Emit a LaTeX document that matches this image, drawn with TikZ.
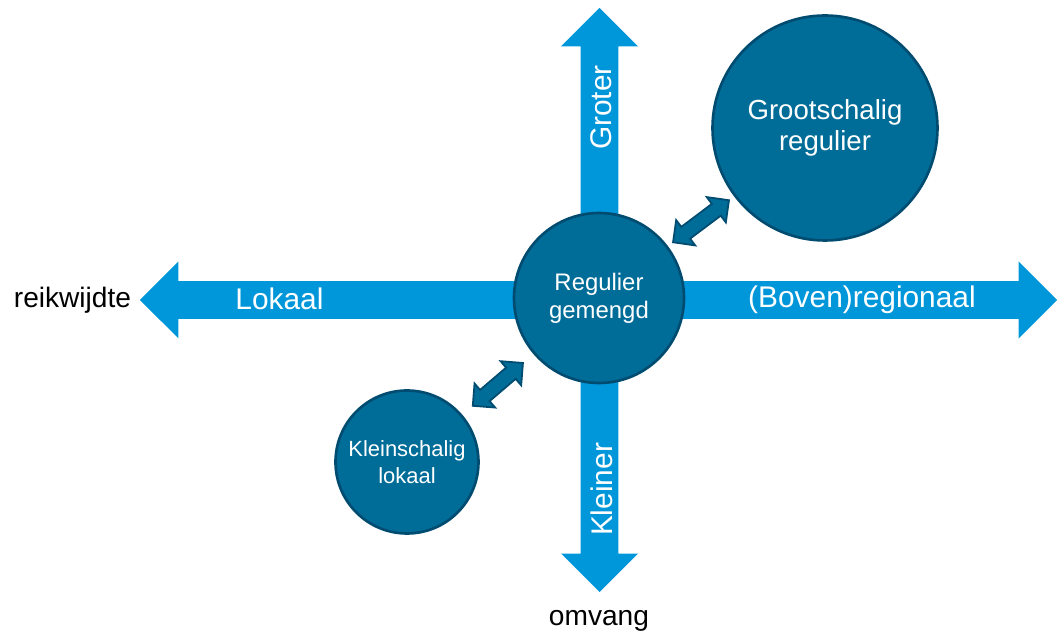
\documentclass[tikz,border=0pt]{standalone}
\usepackage{fontspec}
\setmainfont{Liberation Sans}
\definecolor{main}{RGB}{0,150,218}
\definecolor{second}{RGB}{0,108,152}
\definecolor{third}{RGB}{0,76,112}
\usetikzlibrary{
	shapes.arrows,
	positioning
}
\tikzset{
  % arrow
	cstaxis/.style    ={double arrow, fill=main, inner xsep=0pt, inner ysep=0.37cm, double arrow head extend=0.39cm}, % grote assen
	cstlink/.style    ={double arrow, fill=second, draw=third, line width=1pt, inner xsep=0pt, inner ysep=0.13cm, double arrow head extend=0.17cm}, % verbinding
  % node
	cstnode/.style    ={circle, fill=second, draw=third, line width=1.5pt, text=white, align=center, inner sep=0pt},
  % text
	cstlabel/.style   ={text=white, font=\fontsize{17}{20}\selectfont},
	csttext/.style    ={text=black, font=\fontsize{16}{19}\selectfont}
}

\begin{document}
\begin{tikzpicture}
				\useasboundingbox (-11.98,-6.74) rectangle (9.16,6);
				\node[cstaxis, minimum height=18.34cm] (hor) at (-0.01,0) {};
				\node[cstaxis, minimum height=11.68cm, rotate=90] (ver) at (0.01,0) {};
				\node[cstlabel] (lokaal) at (-6.39,0.02) {Lokaal};
				\node[cstlabel] (boven) at (5.26,0) {(Boven)regionaal};
				\node[cstlabel, rotate=90] (groter) at (0.05,3.85) {Groter};
				\node[cstlabel, rotate=90] (kleiner) at (0.05,-3.79) {Kleiner};
				\node[csttext] (reik) at (-10.53,0) {reikwijdte};
				\node[csttext] (omvang) at (0,-6.42) {omvang};
				% cirkels
				\node[cstnode, minimum size=3.4cm, font=\fontsize{13.6}{15.9}\selectfont] (reg) at (0,0.04) {Regulier\\gemengd};
				\node[cstnode, minimum size=4.5cm, font=\fontsize{15.7}{17.3}\selectfont] (groot) at (4.52,3.44) {Grootschalig\\regulier};
				\node[cstnode, minimum size=2.86cm, font=\fontsize{12.5}{15}\selectfont] (klein) at (-3.84,-3.24) {Kleinschalig\\lokaal};
				\path (reg) -- node[cstlink, sloped, minimum height=1.4cm] {} (groot);
				\path (klein) -- node[cstlink, sloped, minimum height=1.32cm] {} (reg);
			\end{tikzpicture}
\end{document}
